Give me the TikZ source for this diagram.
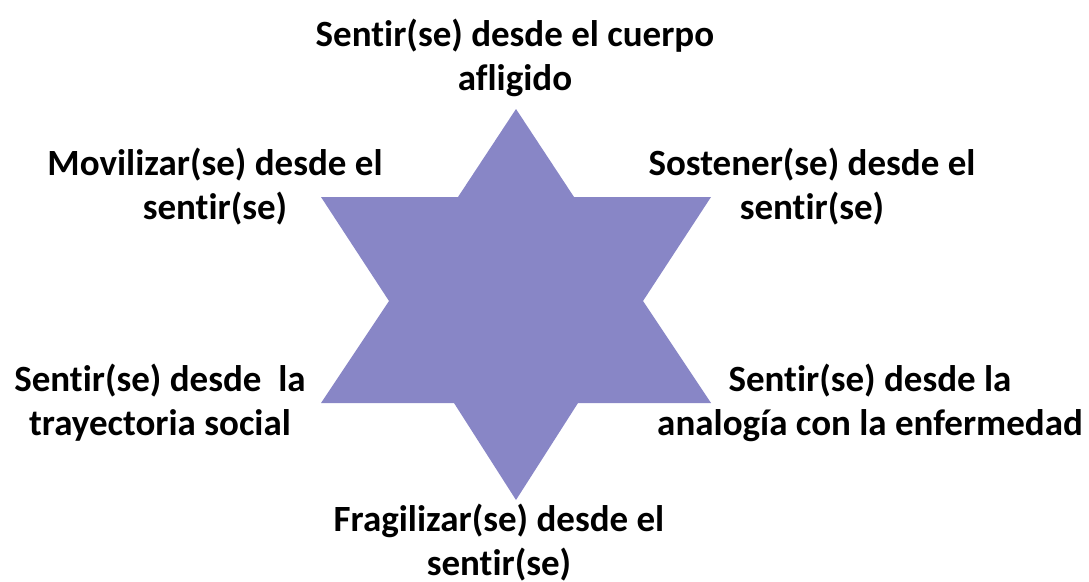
\documentclass[tikz,border=0pt]{standalone}
\usepackage{fontspec}
\setmainfont{Carlito}[Ligatures=NoCommon]
\usepackage{xcolor}
\usetikzlibrary{positioning}
\definecolor{starblue}{RGB}{136,134,198}

\begin{document}
\begin{tikzpicture}[
    x=1pt, y=-1pt,
    lbl/.style={font=\bfseries\fontsize{37}{44}\selectfont, align=center,
                inner sep=0pt, text=black},
    ]
\useasboundingbox (0,0) rectangle (1089,581);

% six-pointed star
\fill[starblue] (516,109) -- (574,197) -- (711,197) -- (643,301) -- (711,403)
      -- (578,403) -- (516,500) -- (454,403) -- (321,403) -- (389,301)
      -- (321,197) -- (458,197) -- cycle;

% labels round the star
\node[lbl] (top)   at (515,58)  {Sentir(se) desde el cuerpo\\afligido};
\node[lbl] (ulft)  at (215,187) {Movilizar(se) desde el\\sentir(se)};
\node[lbl] (urgt)  at (812,187) {Sostener(se) desde el\\sentir(se)};
\node[lbl] (llft)  at (160,403) {Sentir(se) desde\ \ la\\trayectoria social};
\node[lbl] (lrgt)  at (870,403) {Sentir(se) desde la\\analogía con la enfermedad};
\node[lbl] (bot)   at (499,543) {Fragilizar(se) desde el\\sentir(se)};
\end{tikzpicture}
\end{document}
